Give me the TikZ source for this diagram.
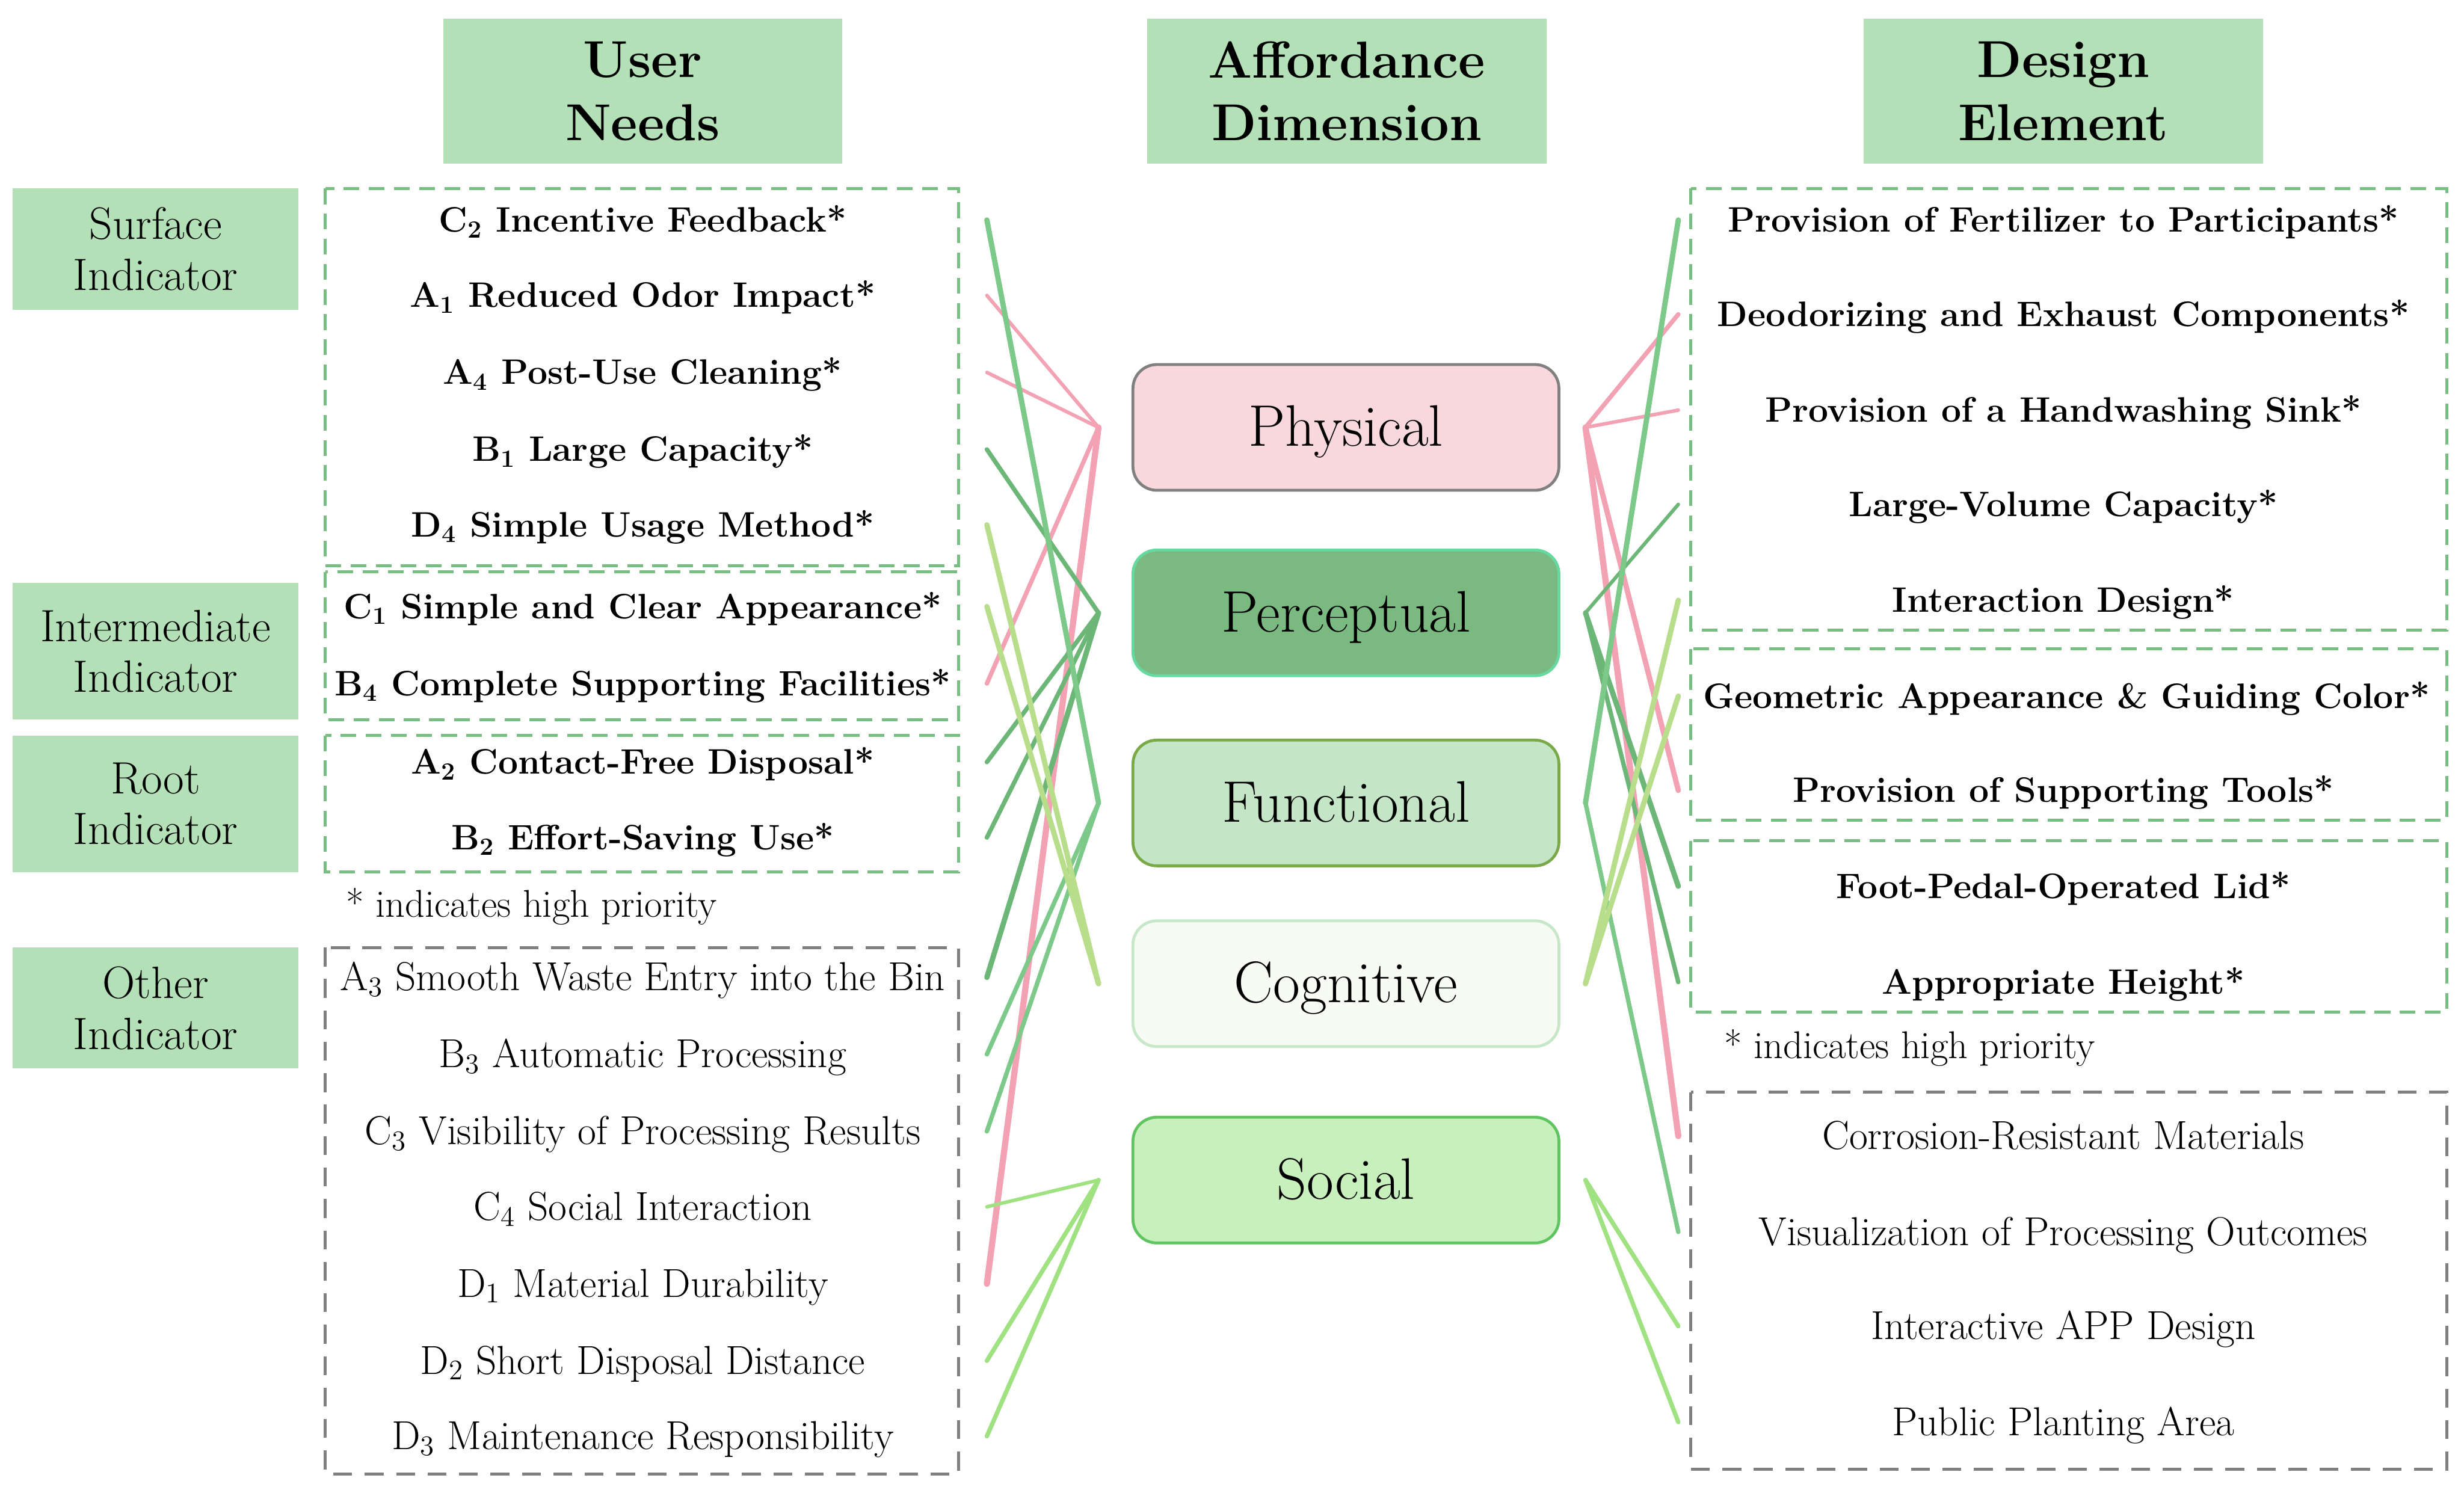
\documentclass[tikz,border=0pt]{standalone}
\usetikzlibrary{calc}
\definecolor{hdrc}{RGB}{179,224,183}
\definecolor{phyF}{RGB}{248,216,220}
\definecolor{phyD}{RGB}{128,128,128}
\definecolor{perF}{RGB}{122,185,128}
\definecolor{perD}{RGB}{102,217,160}
\definecolor{funF}{RGB}{196,230,199}
\definecolor{funD}{RGB}{122,170,72}
\definecolor{cogF}{RGB}{247,251,244}
\definecolor{cogD}{RGB}{198,232,200}
\definecolor{socF}{RGB}{200,240,188}
\definecolor{socD}{RGB}{96,196,96}
\definecolor{dashg}{RGB}{120,190,130}
\definecolor{dashk}{RGB}{128,128,128}
\definecolor{cPhy}{RGB}{242,162,178}
\definecolor{cPer}{RGB}{108,183,120}
\definecolor{cFun}{RGB}{124,201,138}
\definecolor{cCog}{RGB}{184,222,140}
\definecolor{cSoc}{RGB}{160,226,130}
\begin{document}
\begin{tikzpicture}[x=0.025cm,y=-0.025cm,
  hdr/.style={fill=hdrc, minimum width=6.35cm, minimum height=2.3cm, align=center, inner sep=0pt,
    font=\fontsize{23.5}{28.5}\selectfont\bfseries},
  ind/.style={fill=hdrc, minimum width=4.55cm, align=center, inner sep=0pt,
    font=\fontsize{20.5}{23}\selectfont},
  dim/.style={rounded corners=0.38cm, minimum width=6.775cm, minimum height=2cm, line width=1.3pt,
    inner sep=0pt, text height=17pt, text depth=0pt, font=\fontsize{26.5}{30}\selectfont},
  itb/.style={inner sep=0pt, text height=10.8pt, text depth=0pt, font=\fontsize{16}{19}\selectfont\bfseries},
  itr/.style={inner sep=0pt, text height=12pt, text depth=0pt, font=\fontsize{18.3}{21}\selectfont},
  note/.style={inner sep=0pt, anchor=west, font=\fontsize{17.5}{20}\selectfont},
  gbox/.style={draw=dashg, line width=1.3pt, dash pattern=on 0.25cm off 0.15cm},
  kbox/.style={draw=dashk, line width=1.3pt, dash pattern=on 0.3cm off 0.2cm},
  lk/.style={line width=2pt, line cap=round},
  lphy/.style={lk, draw=cPhy},
  lper/.style={lk, draw=cPer},
  lfun/.style={lk, draw=cFun},
  lcog/.style={lk, draw=cCog},
  lsoc/.style={lk, draw=cSoc}
]
\useasboundingbox (0,0) rectangle (1568,946);

% headers
\node[hdr] (hUser) at (409,58) {User\\Needs};
\node[hdr] (hAff) at (857,58) {Affordance\\Dimension};
\node[hdr] (hDes) at (1313,58) {Design\\Element};

% indicator labels
\node[ind, minimum height=1.925cm] (iSurf) at (99,158.5) {Surface\\Indicator};
\node[ind, minimum height=2.175cm] (iInt) at (99,414.5) {Intermediate\\Indicator};
\node[ind, minimum height=2.175cm] (iRoot) at (99,511.5) {Root\\Indicator};
\node[ind, minimum height=1.925cm] (iOth) at (99,641.5) {Other\\Indicator};

% left dashed groups
\draw[gbox] (207,120) rectangle (610,360);
\draw[gbox] (207,364) rectangle (610,458);
\draw[gbox] (207,468) rectangle (610,555);
\draw[kbox] (207,603) rectangle (610,938);

% right dashed groups
\draw[gbox] (1076,120) rectangle (1557,401);
\draw[gbox] (1076,413) rectangle (1557,522);
\draw[gbox] (1076,535) rectangle (1557,644);
\draw[kbox] (1076,695) rectangle (1557,935);

% left items
\node[itb] (nC2) at (409,140) {C\textsubscript{2} Incentive Feedback*};
\node[itb] (nA1) at (409,188) {A\textsubscript{1} Reduced Odor Impact*};
\node[itb] (nA4) at (409,237) {A\textsubscript{4} Post-Use Cleaning*};
\node[itb] (nB1) at (409,286) {B\textsubscript{1} Large Capacity*};
\node[itb] (nD4) at (409,334) {D\textsubscript{4} Simple Usage Method*};
\node[itb] (nC1) at (409,386) {C\textsubscript{1} Simple and Clear Appearance*};
\node[itb] (nB4) at (409,435) {B\textsubscript{4} Complete Supporting Facilities*};
\node[itb] (nA2) at (409,485) {A\textsubscript{2} Contact-Free Disposal*};
\node[itb] (nB2) at (409,533) {B\textsubscript{2} Effort-Saving Use*};
\node[note] (noteL) at (220,577) {* indicates high priority};
\node[itr] (nA3) at (409,622) {A\textsubscript{3} Smooth Waste Entry into the Bin};
\node[itr] (nB3) at (409,671) {B\textsubscript{3} Automatic Processing};
\node[itr] (nC3) at (409,720) {C\textsubscript{3} Visibility of Processing Results};
\node[itr] (nC4) at (409,768) {C\textsubscript{4} Social Interaction};
\node[itr] (nD1) at (409,817) {D\textsubscript{1} Material Durability};
\node[itr] (nD2) at (409,866) {D\textsubscript{2} Short Disposal Distance};
\node[itr] (nD3) at (409,914) {D\textsubscript{3} Maintenance Responsibility};

% right items
\node[itb] (rFer) at (1313,140) {Provision of Fertilizer to Participants*};
\node[itb] (rDeo) at (1313,200) {Deodorizing and Exhaust Components*};
\node[itb] (rSink) at (1313,261) {Provision of a Handwashing Sink*};
\node[itb] (rVol) at (1313,321) {Large-Volume Capacity*};
\node[itb] (rInt) at (1313,382) {Interaction Design*};
\node[itb] (rGeo) at (1315,443) {Geometric Appearance \& Guiding Color*};
\node[itb] (rTool) at (1313,503) {Provision of Supporting Tools*};
\node[itb] (rFoot) at (1313,564) {Foot-Pedal-Operated Lid*};
\node[itb] (rHgt) at (1313,625) {Appropriate Height*};
\node[note] (noteR) at (1097,667) {* indicates high priority};
\node[itr] (rCor) at (1313,723) {Corrosion-Resistant Materials};
\node[itr] (rVis) at (1313,784) {Visualization of Processing Outcomes};
\node[itr] (rApp) at (1313,844) {Interactive APP Design};
\node[itr] (rPub) at (1313,905) {Public Planting Area};

% affordance dimensions
\node[dim, fill=phyF, draw=phyD] (phy) at (856.5,272) {Physical};
\node[dim, fill=perF, draw=perD] (per) at (856.5,390) {Perceptual};
\node[dim, fill=funF, draw=funD] (fun) at (856.5,511) {Functional};
\node[dim, fill=cogF, draw=cogD] (cog) at (856.5,626) {Cognitive};
\node[dim, fill=socF, draw=socD] (soc) at (856.5,751) {Social};

% hubs and endpoint columns
\coordinate (xL) at (628,0);
\coordinate (xR) at (1068,0);
\foreach \n in {phy,per,fun,cog,soc}{
  \coordinate (\n L) at ($(\n.west)+(-21,0)$);
  \coordinate (\n R) at ($(\n.east)+(16,0)$);
}

% left connectors
\draw[lphy, line width=1.6pt] (nA1 -| xL) -- (phyL);
\draw[lphy, line width=1.6pt] (nA4 -| xL) -- (phyL);
\draw[lphy] (nB4 -| xL) -- (phyL);
\draw[lphy, line width=2.8pt] (nD1 -| xL) -- (phyL);
\draw[lper] (nB1 -| xL) -- (perL);
\draw[lper] (nA2 -| xL) -- (perL);
\draw[lper] (nB2 -| xL) -- (perL);
\draw[lper, line width=2.4pt] (nA3 -| xL) -- (perL);
\draw[lfun, line width=2.4pt] (nC2 -| xL) -- (funL);
\draw[lfun] (nB3 -| xL) -- (funL);
\draw[lfun] (nC3 -| xL) -- (funL);
\draw[lcog, line width=2.4pt] (nD4 -| xL) -- (cogL);
\draw[lcog, line width=2.4pt] (nC1 -| xL) -- (cogL);
\draw[lsoc, line width=1.6pt] (nC4 -| xL) -- (socL);
\draw[lsoc] (nD2 -| xL) -- (socL);
\draw[lsoc] (nD3 -| xL) -- (socL);

% right connectors
\draw[lphy] (phyR) -- (rDeo -| xR);
\draw[lphy, line width=1.6pt] (phyR) -- (rSink -| xR);
\draw[lphy, line width=2.4pt] (phyR) -- (rTool -| xR);
\draw[lphy, line width=2.8pt] (phyR) -- (rCor -| xR);
\draw[lper, line width=1.6pt] (perR) -- (rVol -| xR);
\draw[lper, line width=2.4pt] (perR) -- (rFoot -| xR);
\draw[lper] (perR) -- (rHgt -| xR);
\draw[lfun, line width=2.4pt] (funR) -- (rFer -| xR);
\draw[lfun] (funR) -- (rVis -| xR);
\draw[lcog, line width=2.4pt] (cogR) -- (rInt -| xR);
\draw[lcog, line width=2.4pt] (cogR) -- (rGeo -| xR);
\draw[lsoc] (socR) -- (rApp -| xR);
\draw[lsoc] (socR) -- (rPub -| xR);
\end{tikzpicture}
\end{document}
